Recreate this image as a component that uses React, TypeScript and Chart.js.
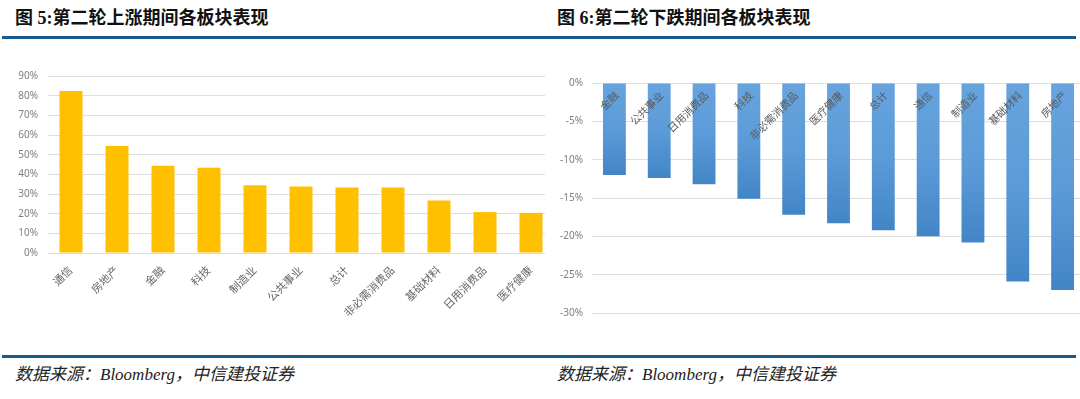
import React, { useEffect, useRef } from 'react';
import { Chart, registerables } from 'chart.js';

Chart.register(...registerables);
Chart.defaults.font.family = '"Noto Sans", "Noto Sans CJK SC", sans-serif';

// Figure 5 data
const upCategories = ['通信', '房地产', '金融', '科技', '制造业', '公共事业', '总计', '非必需消费品', '基础材料', '日用消费品', '医疗健康'];
const upValues = [82.4, 54.4, 44.4, 43.4, 34.4, 33.8, 33.3, 33.3, 26.7, 20.8, 20.4];
const upAxisMin = 0;
const upAxisMax = 90;
const upAxisStep = 10;

// Figure 6 data
const downCategories = ['金融', '公共事业', '日用消费品', '科技', '非必需消费品', '医疗健康', '总计', '通信', '制造业', '基础材料', '房地产'];
const downValues = [-12.0, -12.4, -13.2, -15.1, -17.2, -18.3, -19.2, -20.0, -20.8, -25.9, -27.0];
const downAxisMin = -30;
const downAxisMax = 0;
const downAxisStep = 5;

const titleLeft = '图 5:第二轮上涨期间各板块表现';
const titleRight = '图 6:第二轮下跌期间各板块表现';
const sourceText = '数据来源：Bloomberg，中信建投证券';

function UpChart() {
  const ref = useRef<HTMLCanvasElement>(null);
  useEffect(() => {
    const chart = new Chart(ref.current!, {
      type: 'bar',
      data: {
        labels: upCategories,
        datasets: [{ data: upValues, backgroundColor: '#FFC000', barPercentage: 0.5, categoryPercentage: 1 }],
      },
      options: {
        responsive: false,
        animation: false,
        layout: { padding: { top: 15, right: 0, left: 0, bottom: 0 } },
        plugins: { legend: { display: false }, tooltip: { enabled: false } },
        scales: {
          x: {
            grid: { display: false, drawTicks: false },
            border: { display: false },
            ticks: { autoSkip: false, maxRotation: 45, minRotation: 45, padding: 11, color: '#666666', font: { size: 11 } },
            afterFit: (s: any) => { s.height = 87; },
          },
          y: {
            min: upAxisMin,
            max: upAxisMax,
            ticks: { stepSize: upAxisStep, callback: (v: any) => v + '%', padding: 10, color: '#808080', font: { size: 10 } },
            grid: { color: '#dedede', drawTicks: false },
            border: { display: false },
            afterFit: (s: any) => { s.width = 48; },
          },
        },
      },
    } as any);
    return () => chart.destroy();
  }, []);
  return <canvas ref={ref} width={554} height={280} style={{ position: 'absolute', left: 0, top: 60 }} />;
}

const insideLabels = {
  id: 'insideLabels',
  afterDatasetsDraw(chart: any) {
    const { ctx } = chart;
    const xs = chart.scales.x;
    const ys = chart.scales.y;
    const y0 = ys.getPixelForValue(0);
    ctx.save();
    ctx.fillStyle = '#5a5a5a';
    ctx.font = '10.5px "Noto Sans", "Noto Sans CJK SC", sans-serif';
    ctx.textAlign = 'right';
    ctx.textBaseline = 'middle';
    chart.data.labels.forEach((lab: string, i: number) => {
      const x = xs.getPixelForValue(i);
      ctx.save();
      ctx.translate(x + 3, y0 + 11);
      ctx.rotate(-Math.PI / 4);
      ctx.fillText(lab, 0, 0);
      ctx.restore();
    });
    ctx.restore();
  },
};

const whiteBg = {
  id: 'whiteBg',
  beforeDraw(chart: any) {
    const { ctx } = chart;
    ctx.save();
    ctx.fillStyle = '#ffffff';
    ctx.fillRect(0, 0, chart.width, chart.height);
    ctx.restore();
  },
};

function DownChart() {
  const ref = useRef<HTMLCanvasElement>(null);
  useEffect(() => {
    const chart = new Chart(ref.current!, {
      type: 'bar',
      data: {
        labels: downCategories,
        datasets: [{
          data: downValues,
          barPercentage: 0.51,
          categoryPercentage: 1,
          backgroundColor: (c: any) => {
            const ch = c.chart;
            const ys = ch.scales && ch.scales.y;
            if (!ch.chartArea || !ys || c.dataIndex === undefined) return '#5B9BD5';
            const v = c.dataset.data[c.dataIndex];
            const top = ys.getPixelForValue(0);
            const bot = ys.getPixelForValue(v);
            if (!isFinite(top) || !isFinite(bot) || bot - top < 1) return '#5B9BD5';
            const g = ch.ctx.createLinearGradient(0, top, 0, bot);
            g.addColorStop(0, '#67a4de');
            g.addColorStop(0.5, '#5c9bd8');
            g.addColorStop(1, '#4285c6');
            return g;
          },
        }],
      },
      options: {
        responsive: false,
        animation: false,
        layout: { padding: { top: 23, right: 0, left: 0, bottom: 27 } },
        plugins: { legend: { display: false }, tooltip: { enabled: false } },
        scales: {
          x: { display: false },
          y: {
            min: downAxisMin,
            max: downAxisMax,
            ticks: { stepSize: downAxisStep, callback: (v: any) => v + '%', padding: 9, color: '#808080', font: { size: 10 } },
            grid: { color: '#dedede', drawTicks: false },
            border: { display: false },
            afterFit: (s: any) => { s.width = 47; },
          },
        },
      },
      plugins: [whiteBg, insideLabels],
    } as any);
    return () => chart.destroy();
  }, []);
  return <canvas ref={ref} width={540} height={280} style={{ position: 'absolute', left: 545, top: 60 }} />;
}

const titleStyle: React.CSSProperties = {
  position: 'absolute',
  top: 9,
  fontFamily: '"Liberation Serif", "Noto Sans CJK SC", serif',
  fontWeight: 'bold',
  fontSize: 18,
  lineHeight: '18px',
  color: '#111',
  whiteSpace: 'nowrap',
};

const footStyle: React.CSSProperties = {
  position: 'absolute',
  top: 366,
  fontFamily: '"Liberation Serif", "Noto Sans CJK SC", serif',
  fontStyle: 'italic',
  fontSize: 17,
  lineHeight: '17px',
  color: '#222',
  whiteSpace: 'nowrap',
};

export default function App() {
  return (
    <div style={{ position: 'absolute', left: 0, top: 0, width: 1080, height: 399, overflow: 'hidden', background: '#fff' }}>
      <div style={{ ...titleStyle, left: 15 }}>{titleLeft}</div>
      <div style={{ ...titleStyle, left: 557 }}>{titleRight}</div>
      <div style={{ position: 'absolute', left: 2, top: 36, width: 1074, height: 3, background: '#185a8c' }} />
      <UpChart />
      <DownChart />
      <div style={{ position: 'absolute', left: 2, top: 355, width: 1074, height: 3, background: '#185a8c' }} />
      <div style={{ ...footStyle, left: 15 }}>{sourceText}</div>
      <div style={{ ...footStyle, left: 557 }}>{sourceText}</div>
    </div>
  );
}
